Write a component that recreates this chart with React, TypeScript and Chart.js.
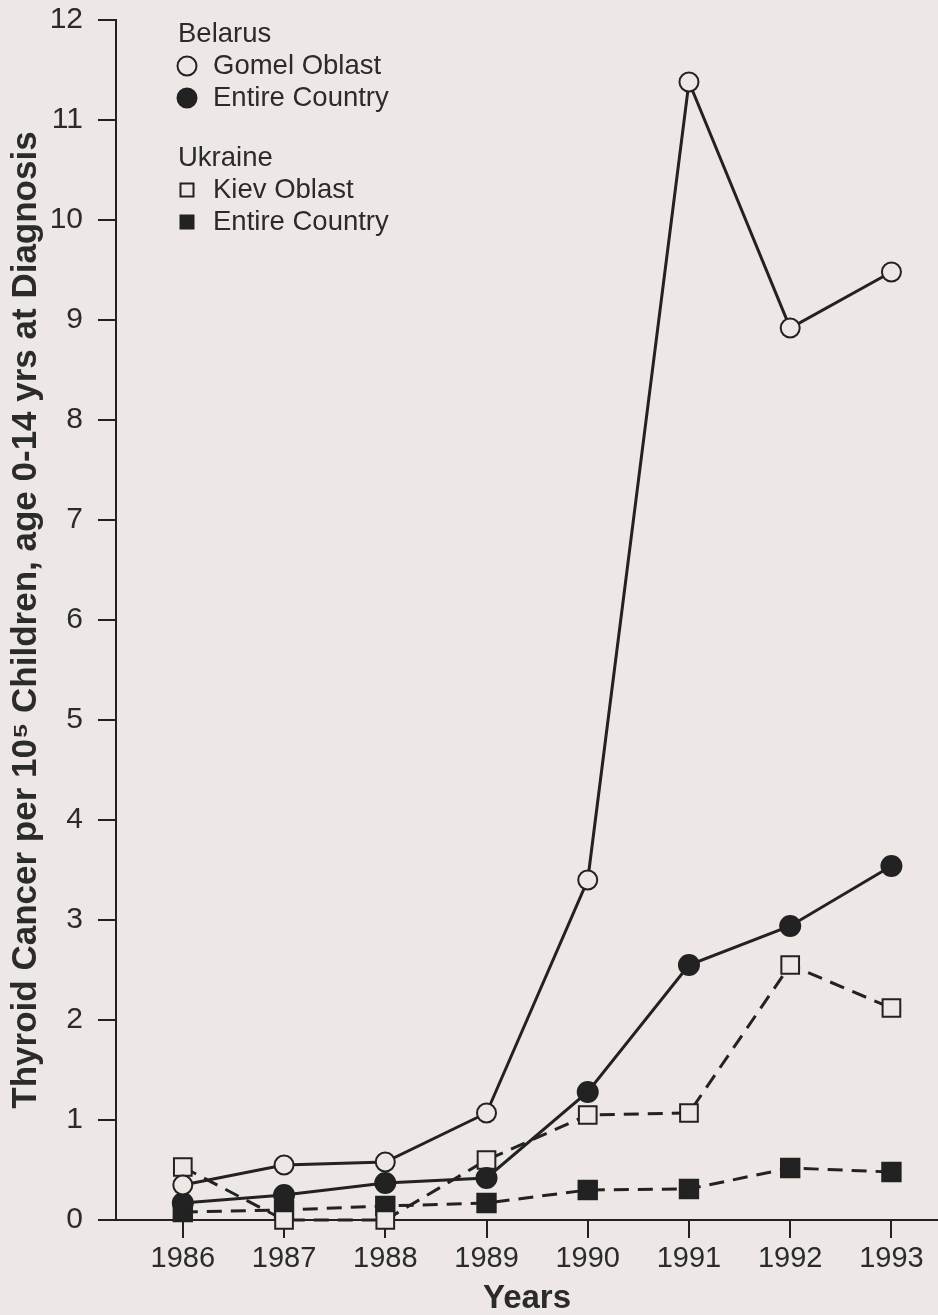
import { useEffect, useRef } from "react";
import { Chart, registerables } from "chart.js";

Chart.register(...registerables);

// ---- data ----
const YEARS = [1986, 1987, 1988, 1989, 1990, 1991, 1992, 1993];
const GOMEL_OBLAST = [0.35, 0.55, 0.58, 1.07, 3.4, 11.38, 8.92, 9.48];
const BELARUS_COUNTRY = [0.17, 0.25, 0.37, 0.42, 1.28, 2.55, 2.94, 3.54];
const KIEV_OBLAST = [0.53, 0.0, 0.0, 0.6, 1.05, 1.07, 2.55, 2.12];
const UKRAINE_COUNTRY = [0.08, 0.1, 0.14, 0.17, 0.3, 0.31, 0.52, 0.48];
const Y_TICKS = [0, 1, 2, 3, 4, 5, 6, 7, 8, 9, 10, 11, 12];
const LEGEND_GROUPS = ["Belarus", "Ukraine"];
const SERIES_LABELS = ["Gomel Oblast", "Entire Country", "Kiev Oblast", "Entire Country"];
const SERIES_GROUP = [0, 0, 1, 1];
const Y_TITLE = "Thyroid Cancer per 10\u2075 Children, age 0-14 yrs at Diagnosis";
const X_TITLE = "Years";

// ---- style ----
const BG = "#ede8e6";
const INK = "#222222";
const TEXT = "#2b2b2b";
const FONT = "'Liberation Sans', Arial, Helvetica, sans-serif";

const markers = [
  { style: "circle", filled: false, radius: 9.5, dashed: false },
  { style: "circle", filled: true, radius: 10, dashed: false },
  { style: "rect", filled: false, radius: 12.5, dashed: true },
  { style: "rect", filled: true, radius: 13, dashed: true },
];

const bgPlugin = {
  id: "bgFill",
  beforeDraw(chart: any) {
    const { ctx, width, height } = chart;
    ctx.save();
    ctx.fillStyle = BG;
    ctx.fillRect(0, 0, width, height);
    ctx.restore();
  },
};

const groupLegendPlugin = {
  id: "groupLegend",
  afterDraw(chart: any, _args: any, opts: any) {
    const { ctx } = chart;
    ctx.save();
    ctx.font = `${opts.fontSize}px ${FONT}`;
    ctx.textBaseline = "middle";
    ctx.textAlign = "left";
    let y = opts.top;
    LEGEND_GROUPS.forEach((g, gi) => {
      if (gi > 0) y += opts.groupGap;
      ctx.fillStyle = TEXT;
      ctx.fillText(g, opts.x, y);
      y += opts.rowHeight;
      SERIES_LABELS.forEach((lab, si) => {
        if (SERIES_GROUP[si] !== gi) return;
        const m = markers[si];
        const cx = opts.markerX;
        ctx.lineWidth = 2;
        ctx.strokeStyle = INK;
        ctx.fillStyle = m.filled ? INK : BG;
        ctx.beginPath();
        if (m.style === "circle") {
          ctx.arc(cx, y, opts.circleR, 0, Math.PI * 2);
        } else {
          const s = opts.squareSide;
          ctx.rect(cx - s / 2, y - s / 2, s, s);
        }
        ctx.fill();
        ctx.stroke();
        ctx.fillStyle = TEXT;
        ctx.fillText(lab, opts.textX, y);
        y += opts.rowHeight;
      });
    });
    ctx.restore();
  },
};

const seriesData = [GOMEL_OBLAST, BELARUS_COUNTRY, KIEV_OBLAST, UKRAINE_COUNTRY];

export default function App() {
  const ref = useRef<HTMLCanvasElement | null>(null);

  useEffect(() => {
    if (!ref.current) return;
    const datasets = seriesData.map((vals, i) => {
      const m = markers[i];
      return {
        label: SERIES_LABELS[i],
        data: YEARS.map((yr, k) => ({ x: yr, y: vals[k] })),
        borderColor: INK,
        borderWidth: 3,
        borderDash: m.dashed ? [15, 9] : [],
        pointStyle: m.style,
        pointRadius: m.radius,
        pointBorderWidth: 2,
        pointBorderColor: INK,
        pointBackgroundColor: m.filled ? INK : BG,
        fill: false,
        tension: 0,
        clip: false as any,
      };
    });

    const chart = new Chart(ref.current, {
      type: "line",
      data: { datasets: datasets as any },
      plugins: [bgPlugin, groupLegendPlugin],
      options: {
        animation: false,
        responsive: false,
        maintainAspectRatio: false,
        layout: { autoPadding: false, padding: { top: 20, right: 0, bottom: 0, left: 0 } },
        plugins: {
          legend: { display: false },
          tooltip: { enabled: false },
          groupLegend: {
            x: 178,
            top: 34,
            rowHeight: 32,
            groupGap: 28,
            markerX: 187,
            textX: 213,
            circleR: 9.5,
            squareSide: 13,
            fontSize: 27.5,
          },
        } as any,
        scales: {
          x: {
            type: "linear",
            min: 1985.34,
            max: 1993.46,
            afterBuildTicks: (s: any) => {
              s.ticks = YEARS.map((v) => ({ value: v }));
            },
            afterFit: (s: any) => {
              s.height = 95;
              s.paddingLeft = 0;
              s.paddingRight = 0;
            },
            ticks: {
              callback: (v: any) => String(v),
              color: TEXT,
              font: { family: FONT, size: 29 },
              padding: 4,
              maxRotation: 0,
              autoSkip: false,
            },
            grid: {
              display: true,
              drawOnChartArea: false,
              drawTicks: true,
              tickLength: 18,
              color: INK,
              lineWidth: 2,
            },
            border: { display: true, color: INK, width: 2 },
            title: {
              display: true,
              text: X_TITLE,
              color: TEXT,
              font: { family: FONT, size: 33, weight: "bold", lineHeight: 1 },
              padding: { top: 0, bottom: 0 },
            },
          },
          y: {
            type: "linear",
            min: 0,
            max: 12,
            afterBuildTicks: (s: any) => {
              s.ticks = Y_TICKS.map((v) => ({ value: v }));
            },
            afterFit: (s: any) => {
              s.width = 116;
              s.paddingTop = 0;
              s.paddingBottom = 0;
            },
            ticks: {
              color: TEXT,
              font: { family: FONT, size: 30 },
              padding: 15,
              autoSkip: false,
            },
            grid: {
              display: true,
              drawOnChartArea: false,
              drawTicks: true,
              tickLength: 18,
              color: INK,
              lineWidth: 2,
            },
            border: { display: true, color: INK, width: 2 },
            title: {
              display: true,
              text: Y_TITLE,
              color: TEXT,
              font: { family: "'Liberation Sans Narrow', 'Liberation Sans', Arial, sans-serif", size: 35, weight: "bold", lineHeight: 1.2 },
              padding: { top: 5, bottom: 0 },
            },
          },
        },
      },
    });
    return () => chart.destroy();
  }, []);

  return (
    <div style={{ position: "absolute", left: 0, top: 0, width: 938, height: 1315, background: BG }}>
      <canvas ref={ref} width={938} height={1315} style={{ display: "block", width: 938, height: 1315 }} />
    </div>
  );
}
